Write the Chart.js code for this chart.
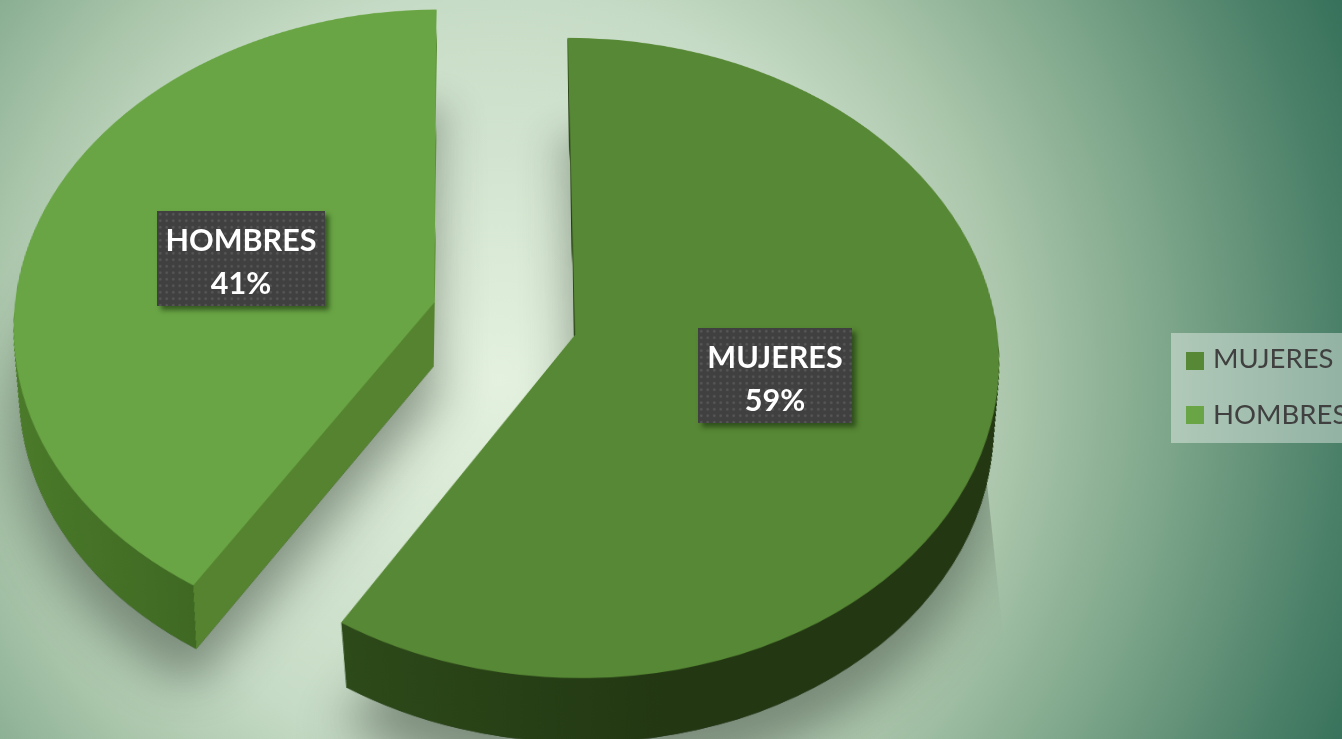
<!DOCTYPE html>
<html>
<head>
<meta charset="utf-8">
<script src="https://cdn.jsdelivr.net/npm/chart.js@4"></script>
<style>
  html, body { margin: 0; width: 1342px; height: 739px; overflow: hidden; }
  body {
    position: relative;
    font-family: Lato, "Open Sans", sans-serif;
    background: radial-gradient(circle at 500px 380px, #e3f1de 0, #c6dbc5 390px, #a8c4a9 520px, #80a88c 660px, #4b8068 842px, #35705a 930px);
  }
  #pie { position: absolute; left: 0; top: 0; transform-origin: 0 0; }
  .tag {
    position: absolute; color: #fff; font-weight: 700; font-size: 30.5px; line-height: 43px;
    text-align: center; padding-top: 7px; box-sizing: border-box;
    background-color: #404040;
    background-image: radial-gradient(circle, #565656 1px, transparent 1.6px);
    background-size: 6.5px 6.5px;
    box-shadow: 4px 4px 5px rgba(20, 40, 10, .6);
  }
  #legend {
    position: absolute; left: 1171px; top: 333px; width: 171px; height: 110px; overflow: hidden;
    background: rgba(255, 255, 255, .4); color: #404040; font-size: 27.5px;
  }
  #legend div { position: absolute; left: 42px; white-space: nowrap; line-height: 32px; }
  #legend i { position: absolute; left: 15px; width: 18px; height: 18px; }
</style>
</head>
<body>
<canvas id="pie" width="1300" height="1300"></canvas>
<div id="tags"></div>
<div id="legend"></div>
<script>
// Dati del grafico
const categories = ['MUJERES', 'HOMBRES'];
const percents = [59, 41];
const sliceColors = ['#578835', '#69a545'];
const rimLeft = ['#34561e', '#4b7b2a'];
const rimRight = ['#223712', '#3f6923'];
const cutFace = ['#243c14', '#55832f'];

// Posizione delle etichette scure e della legenda (pagina)
const tagBoxes = [[698, 328, 154, 95], [157, 211, 168, 95]];
const legendRows = [9, 65];
const legendMarks = [19, 73];

// Geometria del piano inclinato
const radius = 421;
const explode = 73;
const lift = 1.1;
const depth = 85;
const planeX = 504.5, planeY = 318.5;
const squash = 0.7506, tilt = 0.072 / 421;
const shadowEdge = 465;

// Disegna una copia della fetta con un altro colore
function sideCopy(arc, fill) {
  const copy = Object.create(arc);
  copy.options = Object.assign({}, arc.options, { backgroundColor: fill });
  return copy;
}

const solidPie = {
  id: 'solidPie',
  beforeDatasetDraw(chart) {
    const ctx = chart.ctx;
    const arcs = chart.getDatasetMeta(0).data;
    const place = (arc, layer) => {
      const mid = (arc.startAngle + arc.endAngle) / 2;
      const s = 1 - 0.03 * layer / depth;
      ctx.translate(Math.cos(mid) * explode + arc.x, Math.sin(mid) * explode * lift + arc.y + layer);
      ctx.scale(s, s);
      ctx.translate(-arc.x, -arc.y);
    };

    // Ombra sfocata sotto il solido
    arcs.forEach(arc => {
      ctx.save();
      ctx.beginPath();
      ctx.rect(0, 0, arc.x + shadowEdge, chart.height);
      ctx.clip();
      ctx.shadowColor = 'rgba(45, 58, 45, .48)';
      ctx.shadowBlur = 50;
      ctx.shadowOffsetY = 45;
      place(arc, depth);
      sideCopy(arc, 'rgba(45, 58, 45, 1)').draw(ctx);
      ctx.restore();
    });

    // Spessore: tante copie scure
    arcs.forEach((arc, i) => {
      // il gradiente vive nelle coordinate della fetta, prima dello spostamento
      const x0 = arc.x - radius;
      const x1 = arc.x + radius;
      const grad = ctx.createLinearGradient(x0, 0, x1, 0);
      const cut = (radius * Math.cos(arc.startAngle) + radius) / (2 * radius);
      if (i === 1) {
        grad.addColorStop(0, rimLeft[i]);
        grad.addColorStop(cut, rimRight[i]);
        grad.addColorStop(cut, cutFace[i]);
        grad.addColorStop(1, cutFace[i]);
      } else {
        grad.addColorStop(0, rimLeft[i]);
        grad.addColorStop(0.6, rimRight[i]);
        grad.addColorStop(1, rimRight[i]);
      }
      const side = sideCopy(arc, grad);
      for (let layer = depth; layer > 0; layer--) {
        ctx.save();
        place(arc, layer);
        side.draw(ctx);
        ctx.restore();
      }
    });

    // Facce superiori
    arcs.forEach(arc => {
      ctx.save();
      place(arc, 0);
      arc.draw(ctx);
      ctx.restore();
    });
    return false;
  }
};

new Chart(document.getElementById('pie'), {
  type: 'pie',
  data: {
    labels: categories,
    datasets: [{ data: percents, backgroundColor: sliceColors, borderWidth: 0, radius: radius }]
  },
  options: {
    responsive: false,
    animation: false,
    rotation: -0.4,
    plugins: { legend: { display: false }, tooltip: { enabled: false } }
  },
  plugins: [solidPie]
});

// Prospettiva del piano: centro del canvas -> (planeX, planeY)
const cv = 650;
const w0 = 1 + tilt * cv;
const matrix = [
  1, 0, 0, 0,
  -planeX * tilt, squash - planeY * tilt, 0, -tilt,
  0, 0, 1, 0,
  -cv + planeX * w0, -squash * cv + planeY * w0, 0, w0
];
document.getElementById('pie').style.transform = 'matrix3d(' + matrix.join(',') + ')';

// Etichette e legenda
const legend = document.getElementById('legend');
categories.forEach((name, i) => {
  const tag = document.createElement('div');
  const box = tagBoxes[i];
  tag.className = 'tag';
  tag.style.cssText = `left:${box[0]}px;top:${box[1]}px;width:${box[2]}px;height:${box[3]}px`;
  tag.innerHTML = name + '<br>' + percents[i] + '%';
  document.getElementById('tags').appendChild(tag);

  const mark = document.createElement('i');
  mark.style.cssText = `top:${legendMarks[i]}px;background:${sliceColors[i]}`;
  legend.appendChild(mark);

  const row = document.createElement('div');
  row.style.top = legendRows[i] + 'px';
  row.textContent = name;
  legend.appendChild(row);
});
</script>
</body>
</html>
